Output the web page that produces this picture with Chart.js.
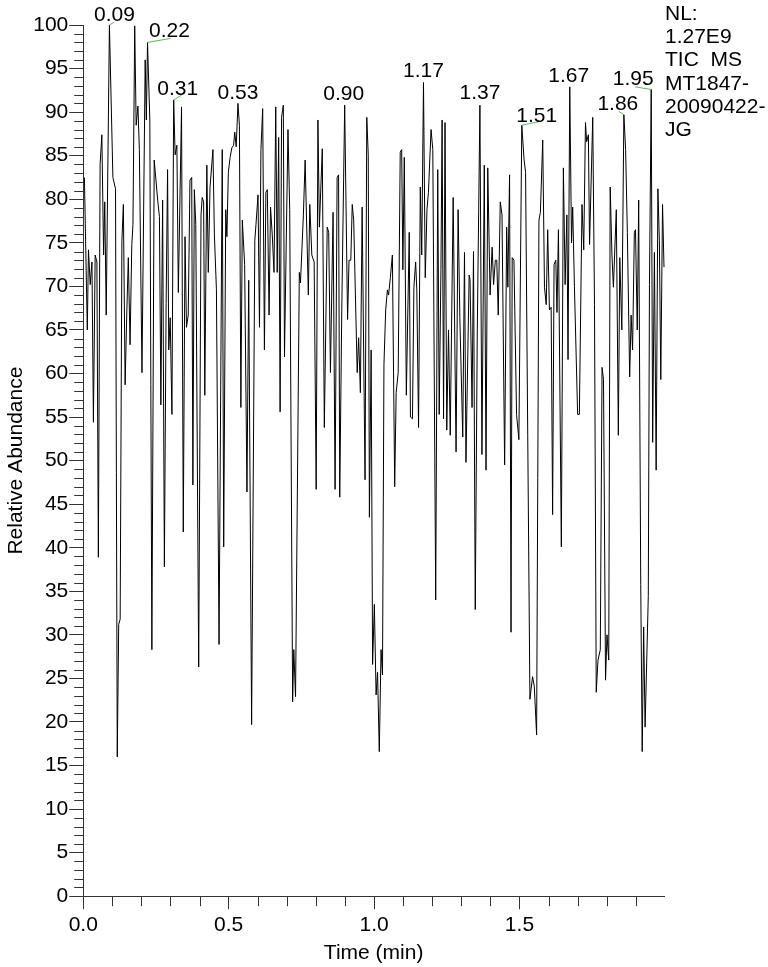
<!DOCTYPE html>
<html>
<head>
<meta charset="utf-8">
<title>TIC chromatogram</title>
<script src="https://cdn.jsdelivr.net/npm/chart.js@4.4.0/dist/chart.umd.min.js"></script>
<style>
  html, body { margin: 0; padding: 0; background: #fff; }
  canvas { display: block; }
</style>
</head>
<body>
<canvas id="tic" width="768" height="967"></canvas>
<script>
// retention time (min) of each scan
const times = [
  0.004,0.014,0.018,0.024,0.030,0.035,0.041,0.047,0.052,0.058,
  0.064,0.070,0.074,0.079,0.090,0.102,0.111,0.117,0.122,0.127,
  0.133,0.138,0.144,0.150,0.155,0.161,0.167,0.171,0.177,0.182,
  0.188,0.193,0.202,0.213,0.217,0.221,0.229,0.236,0.244,0.250,
  0.256,0.262,0.267,0.273,0.279,0.285,0.290,0.294,0.299,0.305,
  0.311,0.316,0.322,0.327,0.338,0.344,0.350,0.355,0.361,0.367,
  0.373,0.377,0.382,0.387,0.397,0.405,0.409,0.414,0.418,0.425,
  0.430,0.436,0.446,0.451,0.458,0.467,0.478,0.483,0.490,0.494,
  0.499,0.505,0.511,0.517,0.521,0.526,0.532,0.537,0.542,0.547,
  0.555,0.563,0.569,0.579,0.590,0.594,0.601,0.606,0.611,0.617,
  0.623,0.628,0.633,0.639,0.644,0.650,0.656,0.662,0.667,0.672,
  0.677,0.682,0.688,0.692,0.704,0.710,0.720,0.724,0.730,0.743,
  0.747,0.757,0.763,0.774,0.779,0.786,0.794,0.801,0.807,0.812,
  0.822,0.829,0.839,0.844,0.850,0.859,0.866,0.873,0.878,0.882,
  0.889,0.899,0.909,0.914,0.920,0.925,0.930,0.942,0.947,0.953,
  0.959,0.969,0.975,0.980,0.984,0.990,0.995,1.001,1.007,1.012,
  1.018,1.024,1.029,1.034,1.040,1.046,1.050,1.056,1.063,1.071,
  1.076,1.083,1.090,1.095,1.099,1.104,1.111,1.121,1.125,1.132,
  1.137,1.143,1.147,1.153,1.159,1.164,1.170,1.176,1.182,1.187,
  1.196,1.202,1.212,1.219,1.224,1.230,1.234,1.239,1.244,1.250,
  1.256,1.262,1.272,1.282,1.289,1.295,1.305,1.311,1.316,1.327,
  1.330,1.337,1.342,1.348,1.355,1.364,1.371,1.379,1.385,1.391,
  1.399,1.406,1.411,1.417,1.422,1.427,1.434,1.440,1.449,1.456,
  1.460,1.466,1.471,1.475,1.481,1.490,1.498,1.508,1.516,1.521,
  1.536,1.545,1.551,1.559,1.567,1.572,1.580,1.586,1.592,1.597,
  1.603,1.609,1.614,1.619,1.625,1.629,1.634,1.644,1.651,1.657,
  1.663,1.667,1.673,1.679,1.683,1.689,1.700,1.706,1.715,1.721,
  1.727,1.731,1.737,1.741,1.752,1.758,1.764,1.770,1.778,1.784,
  1.789,1.796,1.801,1.807,1.812,1.818,1.823,1.833,1.840,1.845,
  1.852,1.859,1.865,1.871,1.879,1.884,1.889,1.895,1.899,1.905,
  1.910,1.917,1.922,1.927,1.932,1.943,1.947,1.953,1.958,1.964,
  1.970,1.976,1.981,1.986,1.992,1.997
];

// relative abundance (%) at each scan
const abundance = [
  82.5,65.0,74.2,70.2,72.8,54.4,73.6,72.8,38.9,84.0,
  87.4,73.6,79.7,66.7,100.0,82.5,81.2,16.0,31.2,31.8,
  75.3,79.4,58.7,67.3,73.3,63.3,74.8,77.1,99.9,88.5,
  90.7,85.7,60.1,96.0,89.1,98.0,89.1,28.3,84.5,82.2,
  79.9,78.0,56.4,79.9,37.8,68.0,83.4,62.7,66.4,55.3,
  91.4,85.1,86.2,69.3,90.6,41.8,75.7,65.3,66.7,82.2,
  82.5,47.2,81.1,77.1,26.3,78.2,80.2,79.7,57.5,83.9,
  71.6,81.4,85.7,75.9,69.6,28.9,85.7,40.1,78.8,75.7,
  83.1,84.8,85.9,86.2,87.7,86.0,91.0,88.5,56.1,77.6,
  72.5,46.4,70.7,19.7,75.3,77.1,80.5,65.3,85.7,90.4,
  62.7,80.8,81.1,66.7,79.1,75.9,71.6,90.6,71.6,87.1,
  55.6,89.4,90.8,61.9,88.0,78.8,22.3,28.3,22.9,71.6,
  70.4,78.2,84.5,69.0,79.4,73.6,72.8,46.7,89.1,76.8,
  85.8,53.8,76.8,76.2,60.1,78.5,46.7,82.5,82.8,45.8,
  67.3,90.8,66.2,73.0,73.0,79.4,77.6,60.1,64.1,57.8,
  79.1,47.8,89.4,85.1,43.5,62.7,26.6,33.5,23.1,25.7,
  16.6,28.3,25.4,61.0,67.3,69.6,69.0,71.0,73.6,47.0,
  57.8,60.1,85.4,85.7,71.9,84.8,57.5,76.2,55.0,54.8,
  69.9,72.8,69.6,53.8,81.4,73.6,93.4,71.0,78.8,80.8,
  88.0,85.7,34.0,83.4,55.3,71.9,89.1,54.8,88.8,53.5,
  65.0,52.9,80.2,51.0,78.8,66.4,52.7,73.9,49.8,71.3,
  70.8,56.1,74.0,32.9,65.0,90.8,50.7,83.9,48.9,83.6,
  69.0,74.5,70.2,73.0,73.0,66.7,79.7,78.2,49.5,76.8,
  69.9,82.8,30.3,73.3,73.0,55.3,52.4,88.5,84.5,83.1,
  22.6,25.2,24.1,18.5,77.6,78.5,86.8,69.9,67.9,76.5,
  67.3,67.6,43.8,72.5,73.0,67.0,76.5,40.1,83.6,70.2,
  78.2,61.6,92.9,75.0,79.1,70.0,55.3,55.3,79.4,74.2,
  88.8,86.6,87.4,74.8,89.4,67.9,23.4,27.1,28.3,60.7,
  59.3,24.8,30.0,27.1,81.4,73.6,69.9,78.8,52.9,73.3,
  65.0,89.7,85.7,76.2,59.6,66.7,62.7,76.2,76.5,65.0,
  79.9,35.8,16.6,30.9,19.4,34.4,70.2,92.6,52.1,73.9,
  48.9,81.2,75.3,59.3,79.4,72.2
];

// labelled peaks
const peakTimes = [0.090, 0.221, 0.311, 0.532, 0.899, 1.170, 1.364, 1.508, 1.673, 1.859, 1.953];
const peakLabels = ["0.09", "0.22", "0.31", "0.53", "0.90", "1.17", "1.37", "1.51", "1.67", "1.86", "1.95"];

// header text at top right
const headerLines = ["NL:", "1.27E9", "TIC  MS", "MT1847-", "20090422-", "JG"];

// axis ranges
const xMax = 1.997;
const yMax = 100;

// label placement relative to the peak apex (px): text centre / baseline, green leader end
const labelOffsets = [
  { dx: 5, dy: -4, lead: [5, -3] },
  { dx: 22, dy: -5, lead: [23, -4] },
  { dx: 4, dy: -5, lead: [8, -5] },
  { dx: 0, dy: -4 },
  { dx: -1, dy: -5 },
  { dx: 0, dy: -5 },
  { dx: 0, dy: -6 },
  { dx: 15, dy: -3, lead: [17, -3.5] },
  { dx: -1, dy: -5 },
  { dx: -6, dy: -5, lead: [-5, -3.3] },
  { dx: -18, dy: -4.3, lead: [-16, -2.6] }
];

const FONT = '"Liberation Sans", Arial, sans-serif';
const FONT_SIZE = 21;
const AXIS_COLOR = "#333";
const TEXT_COLOR = "#000";
const LEAD_COLOR = "#5cb85c";

const isMajorX = (v) => Math.round(v * 10) % 5 === 0;
const isMajorY = (v) => Math.round(v) % 5 === 0;

// short minor ticks, peak labels and header text
const decorPlugin = {
  id: "decor",
  afterDraw(chart) {
    const { ctx, chartArea, scales: { x, y } } = chart;
    ctx.save();

    ctx.strokeStyle = AXIS_COLOR;
    ctx.lineWidth = 1;
    ctx.beginPath();
    y.ticks.forEach((t) => {
      if (isMajorY(t.value)) return;
      const py = Math.round(y.getPixelForValue(t.value)) + 0.5;
      ctx.moveTo(y.right - 9, py);
      ctx.lineTo(y.right, py);
    });
    x.ticks.forEach((t) => {
      if (isMajorX(t.value)) return;
      const px = Math.round(x.getPixelForValue(t.value)) + 0.5;
      ctx.moveTo(px, x.top);
      ctx.lineTo(px, x.top + 10);
    });
    ctx.stroke();

    ctx.font = FONT_SIZE + "px " + FONT;
    peakTimes.forEach((t, i) => {
      let best = 0;
      times.forEach((tt, j) => {
        if (Math.abs(tt - t) < Math.abs(times[best] - t)) best = j;
      });
      const px = x.getPixelForValue(times[best]);
      const py = y.getPixelForValue(abundance[best]);
      const o = labelOffsets[i];
      if (o.lead) {
        ctx.strokeStyle = LEAD_COLOR;
        ctx.beginPath();
        ctx.moveTo(px, py);
        ctx.lineTo(px + o.lead[0], py + o.lead[1]);
        ctx.stroke();
      }
      ctx.fillStyle = TEXT_COLOR;
      ctx.textAlign = "center";
      ctx.textBaseline = "alphabetic";
      ctx.fillText(peakLabels[i], px + o.dx, py + o.dy);
    });

    ctx.textAlign = "left";
    headerLines.forEach((line, i) => {
      ctx.fillText(line, chartArea.right + 1, chartArea.top - 5 + i * 23.2);
    });

    ctx.restore();
  }
};

const ctx = document.getElementById("tic");

new Chart(ctx, {
  type: "line",
  data: {
    datasets: [
      {
        data: times.map((t, i) => ({ x: t, y: abundance[i] })),
        borderColor: "#000",
        borderWidth: 1,
        pointRadius: 0,
        tension: 0,
        clip: 6,
      },
    ],
  },
  options: {
    responsive: false,
    animation: false,
    layout: {
      padding: { left: 0, right: 104, top: 25, bottom: 0 },
    },
    plugins: {
      legend: { display: false },
      tooltip: { enabled: false },
    },
    scales: {
      x: {
        type: "linear",
        min: 0,
        max: xMax,
        border: { color: AXIS_COLOR, width: 1 },
        grid: {
          drawOnChartArea: false,
          tickLength: 13,
          tickColor: (c) => (c.tick && isMajorX(c.tick.value) ? AXIS_COLOR : "rgba(0,0,0,0)"),
        },
        ticks: {
          stepSize: 0.1,
          autoSkip: false,
          includeBounds: false,
          maxRotation: 0,
          padding: 3.5,
          color: TEXT_COLOR,
          font: { family: FONT, size: FONT_SIZE },
          callback: (v) => (isMajorX(v) ? v.toFixed(1) : ""),
        },
        title: {
          display: true,
          text: "Time (min)",
          color: TEXT_COLOR,
          font: { family: FONT, size: FONT_SIZE, lineHeight: 1.1 },
          padding: { top: 0, bottom: 2.5 },
        },
      },
      y: {
        min: 0,
        max: yMax,
        border: { color: AXIS_COLOR, width: 1 },
        grid: {
          drawOnChartArea: false,
          tickLength: 14,
          tickColor: (c) => (c.tick && isMajorY(c.tick.value) ? AXIS_COLOR : "rgba(0,0,0,0)"),
        },
        ticks: {
          stepSize: 1,
          autoSkip: false,
          padding: 1,
          color: TEXT_COLOR,
          font: { family: FONT, size: FONT_SIZE },
          callback: (v) => (isMajorY(v) ? String(v) : ""),
        },
        title: {
          display: true,
          text: "Relative Abundance",
          color: TEXT_COLOR,
          font: { family: FONT, size: FONT_SIZE },
          padding: { top: 4, bottom: 3 },
        },
      },
    },
  },
  plugins: [decorPlugin],
});
</script>
</body>
</html>
